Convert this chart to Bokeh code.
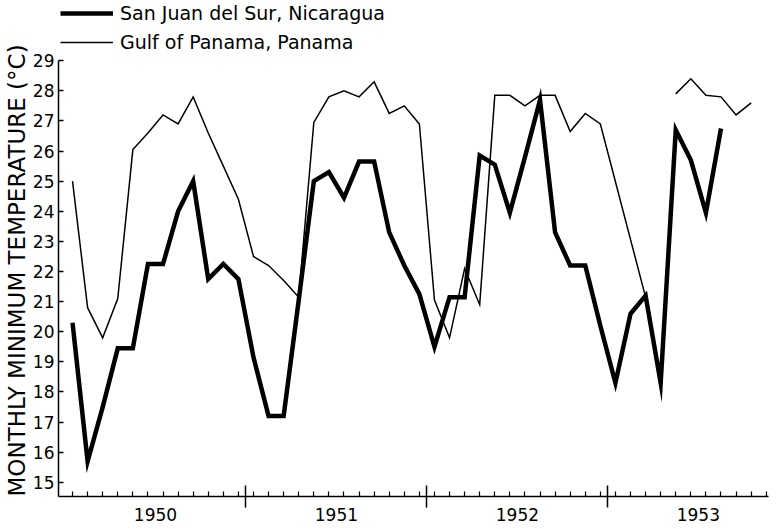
from bokeh.plotting import figure
from bokeh.models import Range1d, FixedTicker, Legend, LegendItem, LinearAxis, Title
from bokeh.embed import file_html
from bokeh.resources import INLINE

NaN = float("nan")

# month index: 0 = January 1950
san_juan_months = list(range(0, 44))
san_juan_temp = [20.3, 15.7, 17.5, 19.45, 19.45, 22.25, 22.25, 24.0, 25.0, 21.75,
                 22.25, 21.75, 19.15, 17.2, 17.2, 21.05, 25.0, 25.3, 24.45, 25.65,
                 25.65, 23.3, 22.2, 21.25, 19.5, 21.15, 21.15, 25.85, 25.55, 23.95,
                 25.8, 27.7, 23.3, 22.2, 22.2, 20.2, 18.3, 20.6, 21.2, 18.3,
                 26.7, 25.7, 23.95, 26.75]

gulf_months = list(range(0, 36)) + [38, 39, 40, 41, 42, 43, 44, 45]
gulf_temp = [25.0, 20.8, 19.8, 21.1, 26.05, 26.6, 27.2, 26.9, 27.8, 26.6,
             25.5, 24.4, 22.5, 22.2, 21.7, 21.15, 26.95, 27.8, 28.0, 27.8,
             28.3, 27.25, 27.5, 26.9, 21.05, 19.8, 22.1, 20.9, 27.85, 27.85,
             27.5, 27.85, 27.85, 26.65, 27.25, 26.9,
             21.15, NaN, 27.9, 28.4, 27.85, 27.8, 27.2, 27.6]

years = [1950, 1951, 1952, 1953]
year_labels = ["1950", "1951", "1952", "1953"]
y_ticks = list(range(15, 30))
month_ticks = list(range(0, 47))

year_centers = [12 * i + 5.5 for i in range(len(years))]
year_bounds = [12 * i - 0.5 for i in range(1, len(years))]

FONT = "DejaVu Sans"
Y_MIN, Y_AXIS_TOP, Y_VIEW_TOP = 14.53, 29.0, 31.0

p = figure(width=778, height=529, output_backend="svg", toolbar_location=None,
           x_range=Range1d(-0.93, 46.15), y_range=Range1d(Y_MIN, Y_VIEW_TOP),
           min_border_left=58, min_border_right=10, min_border_top=0,
           min_border_bottom=33)
p.outline_line_color = None
p.grid.visible = False
p.background_fill_color = "white"
p.border_fill_color = "white"

r_sj = p.line(san_juan_months, san_juan_temp, line_width=4.5, color="black",
              line_join="miter")
r_gp = p.line(gulf_months, gulf_temp, line_width=1.5, color="black",
              line_join="miter")

# axis carrying the month ticks and the year-boundary ticks
xa = p.xaxis[0]
xa.ticker = FixedTicker(ticks=year_bounds, minor_ticks=month_ticks)
xa.major_label_text_font_size = "0px"
xa.major_label_standoff = 0
xa.major_label_overrides = {b: "" for b in year_bounds}
xa.axis_line_width = 1.5
xa.axis_line_color = "black"
xa.major_tick_in = 11
xa.major_tick_out = 11
xa.major_tick_line_width = 1.5
xa.major_tick_line_color = "black"
xa.minor_tick_in = 5
xa.minor_tick_out = 0
xa.minor_tick_line_width = 1.2
xa.minor_tick_line_color = "black"

# axis carrying the year labels, centred on each year
xb = LinearAxis(ticker=FixedTicker(ticks=year_centers, minor_ticks=[]),
                major_label_overrides={c: t for c, t in zip(year_centers, year_labels)})
xb.axis_line_color = None
xb.major_tick_line_color = None
xb.minor_tick_line_color = None
xb.major_tick_in = 0
xb.major_tick_out = 0
xb.major_label_standoff = 0
xb.major_label_text_font = FONT
xb.major_label_text_font_size = "17px"
xb.major_label_text_color = "black"
p.add_layout(xb, "below")

ya = p.yaxis[0]
ya.ticker = FixedTicker(ticks=y_ticks, minor_ticks=[])
ya.bounds = (Y_MIN, Y_AXIS_TOP)
ya.axis_line_width = 1.5
ya.axis_line_color = "black"
ya.major_tick_in = 5
ya.major_tick_out = 0
ya.major_tick_line_width = 1.5
ya.major_tick_line_color = "black"
ya.minor_tick_line_color = None
ya.major_label_text_font = FONT
ya.major_label_text_font_size = "17px"
ya.major_label_text_color = "black"
ya.major_label_standoff = 4

y_title = Title(text="MONTHLY MINIMUM TEMPERATURE (°C)", align="left", offset=0,
                standoff=0, text_font=FONT, text_font_size="23px",
                text_font_style="normal", text_color="black")
p.add_layout(y_title, "left")

legend = Legend(items=[LegendItem(label="San Juan del Sur, Nicaragua", renderers=[r_sj]),
                       LegendItem(label="Gulf of Panama, Panama", renderers=[r_gp])],
                location="top_left", orientation="vertical",
                padding=0, margin=2, spacing=7, label_standoff=7,
                glyph_width=53, glyph_height=22, label_height=22,
                label_text_font=FONT, label_text_font_size="19px",
                label_text_color="black",
                border_line_color=None, background_fill_alpha=0)
p.add_layout(legend)

open("out.html", "w").write(file_html(p, INLINE))
